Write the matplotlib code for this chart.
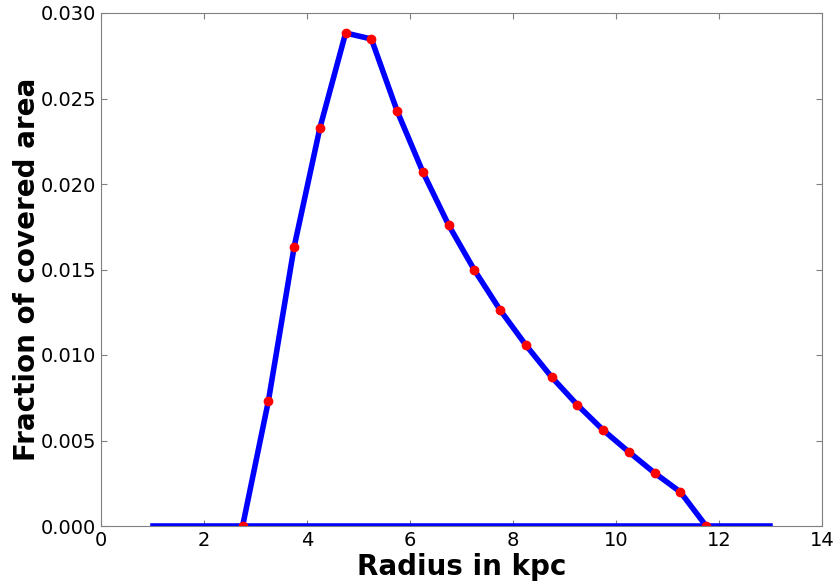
import numpy as np
import matplotlib.pyplot as plt

# radius bins (kpc) and covered-area fraction
radius = [2.75, 3.25, 3.75, 4.25, 4.75, 5.25, 5.75, 6.25, 6.75, 7.25,
          7.75, 8.25, 8.75, 9.25, 9.75, 10.25, 10.75, 11.25, 11.75]
fraction = [0.0, 0.00731, 0.01632, 0.02327, 0.02883, 0.02848, 0.02427,
            0.0207, 0.0176, 0.01497, 0.01263, 0.01058, 0.00871, 0.00708,
            0.00561, 0.00433, 0.0031, 0.00199, 0.0]
base_x = [1, 13]
base_y = [0, 0]

fig = plt.figure(figsize=(8.35, 5.85), dpi=100)
ax = fig.add_axes([101/835, 1-526/585, 721/835, 513/585])

ax.plot(base_x, base_y, color='blue', lw=4, zorder=4)
ax.plot(radius, fraction, color='blue', lw=4, marker='o', ms=6,
        mfc='red', mec='red', zorder=5)

ax.set_xlim(0, 14)
ax.set_ylim(0, 0.030)
ax.set_xticks(np.arange(0, 15, 2))
ax.set_yticks(np.arange(0, 0.0301, 0.005))
ax.set_yticklabels(['%.3f' % v for v in np.arange(0, 0.0301, 0.005)])
ax.tick_params(direction='in', labelsize=14, color='gray', length=4,
               top=True, right=True)
for s in ax.spines.values():
    s.set_color('gray')
    s.set_zorder(6)

ax.set_xlabel('Radius in kpc', fontsize=20, fontweight='bold', labelpad=2)
ax.set_ylabel('Fraction of covered area', fontsize=20, fontweight='bold',
              labelpad=0)

plt.savefig('out.png', dpi=100)
